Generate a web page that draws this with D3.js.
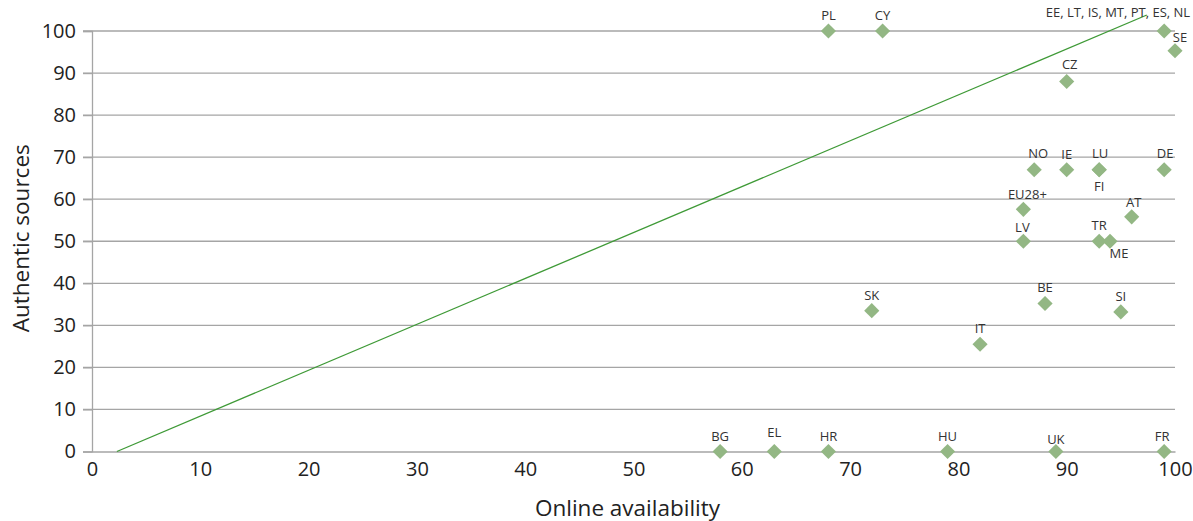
<!DOCTYPE html>
<html>
<head>
<meta charset="utf-8">
<script src="https://cdn.jsdelivr.net/npm/d3@7"></script>
<style>
  html, body { margin: 0; padding: 0; background: #fff; }
  svg { display: block; font-family: "Open Sans", "Noto Sans", sans-serif; }
</style>
</head>
<body>
<svg id="chart" width="1193" height="521"></svg>
<script>
// ---- data ----
const countries = ["PL", "CY", "EE, LT, IS, MT, PT, ES, NL", "SE", "CZ", "NO", "IE", "LU", "FI", "DE",
  "EU28+", "AT", "LV", "TR", "ME", "SK", "BE", "SI", "IT", "BG", "EL", "HR", "HU", "UK", "FR"];
const onlineAvailability = [68, 73, 99, 100, 90, 87, 90, 93, 93, 99,
  86, 96, 86, 93, 94, 72, 88, 95, 82, 58, 63, 68, 79, 89, 99];
const authenticSources = [100, 100, 100, 95.3, 88, 67, 67, 67, 67, 67,
  57.6, 55.8, 50, 50, 50, 33.5, 35.2, 33.2, 25.5, 0, 0, 0, 0, 0, 0];
const xTicks = [0, 10, 20, 30, 40, 50, 60, 70, 80, 90, 100];
const yTicks = [0, 10, 20, 30, 40, 50, 60, 70, 80, 90, 100];
const trendX = [2.3, 97.4];
const trendY = [0, 103.8];
const xTitle = "Online availability";
const yTitle = "Authentic sources";

// ---- label placement (layout only) ----
const labelOffsets = {
  "EE, LT, IS, MT, PT, ES, NL": { dx: 26, dy: -19, anchor: "end" },
  "SE": { dx: 5, dy: -14 },
  "CZ": { dx: 3, dy: -17 },
  "NO": { dx: 4, dy: -17 },
  "LU": { dx: 1, dy: -17 },
  "FI": { dx: 0, dy: 16 },
  "DE": { dx: 1, dy: -17 },
  "EU28+": { dx: 4, dy: -15 },
  "LV": { dx: -1, dy: -14 },
  "ME": { dx: 9, dy: 12 },
  "AT": { dx: 2, dy: -15 },
  "EL": { dx: 0, dy: -20 },
  "UK": { dx: 0, dy: -13 },
  "FR": { dx: -2, dy: -16 }
};

const data = countries.map((c, i) => ({ name: c, x: onlineAvailability[i], y: authenticSources[i] }));

const svg = d3.select("#chart");
const mLeft = 92, mRight = 1175, mTop = 31, mBottom = 451.5;
const x = d3.scaleLinear().domain([0, 100]).range([mLeft, mRight]);
const y = d3.scaleLinear().domain([0, 100]).range([mBottom, mTop]);

const gridColor = "#a5a5a5";

// gridlines (y)
svg.append("g").selectAll("line").data(yTicks.filter(d => d > 0)).join("line")
  .attr("x1", mLeft - 9).attr("x2", mRight)
  .attr("y1", d => y(d)).attr("y2", d => y(d))
  .attr("stroke", gridColor).attr("stroke-width", 1.3);

// y axis
const yAxis = d3.axisLeft(y).tickValues(yTicks).tickSize(9).tickPadding(7).tickFormat(d3.format("d"));
const gy = svg.append("g").attr("transform", `translate(${mLeft},0)`).call(yAxis);
gy.select(".domain").attr("stroke", gridColor).attr("stroke-width", 1.3);
gy.selectAll(".tick line").attr("stroke", gridColor).attr("stroke-width", 1.3);
gy.selectAll(".tick text").attr("fill", "#222").style("font-size", "20px")
  .style("font-family", "'Open Sans', sans-serif");

// x axis
const xAxis = d3.axisBottom(x).tickValues(xTicks).tickSize(0).tickPadding(10).tickFormat(d3.format("d"));
const gx = svg.append("g").attr("transform", `translate(0,${mBottom})`).call(xAxis);
gx.select(".domain").attr("stroke", gridColor).attr("stroke-width", 1.3);
gx.selectAll(".tick text").attr("fill", "#222").style("font-size", "20px")
  .style("font-family", "'Open Sans', sans-serif");

// trend line
svg.append("path")
  .datum(trendX.map((v, i) => [v, trendY[i]]))
  .attr("d", d3.line().x(d => x(d[0])).y(d => y(d[1])))
  .attr("fill", "none").attr("stroke", "#3f9a37").attr("stroke-width", 1.3);

// diamonds
const sym = d3.symbol().type(d3.symbolSquare).size(115);
svg.append("g").selectAll("path").data(data).join("path")
  .attr("d", sym)
  .attr("transform", d => `translate(${x(d.x)},${y(d.y)}) rotate(45)`)
  .attr("fill", "#93b784");

// labels
svg.append("g").selectAll("text").data(data).join("text")
  .attr("x", d => x(d.x) + ((labelOffsets[d.name] || {}).dx || 0))
  .attr("y", d => y(d.y) + ((labelOffsets[d.name] || {}).dy ?? -16))
  .attr("text-anchor", d => (labelOffsets[d.name] || {}).anchor || "middle")
  .attr("dominant-baseline", "central")
  .attr("fill", "#333")
  .style("font-size", "13px")
  .text(d => d.name);

// axis titles
svg.append("text")
  .attr("x", (mLeft + mRight) / 2 - 6).attr("y", 507)
  .attr("text-anchor", "middle").attr("dominant-baseline", "central")
  .attr("fill", "#222").style("font-size", "22.5px")
  .text(xTitle);

svg.append("text")
  .attr("transform", `translate(20,${(mTop + mBottom) / 2 - 3}) rotate(-90)`)
  .attr("text-anchor", "middle").attr("dominant-baseline", "central")
  .attr("fill", "#222").style("font-size", "22.5px")
  .text(yTitle);
</script>
</body>
</html>
